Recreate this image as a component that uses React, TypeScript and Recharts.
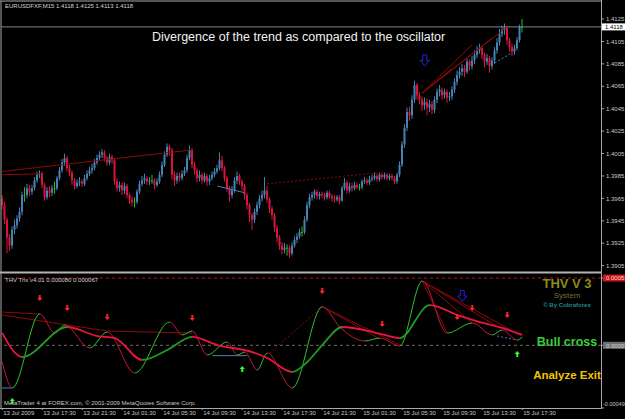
import React from "react";
import { ComposedChart, Bar, Line, XAxis, YAxis, ReferenceLine } from "recharts";

// ---------------- data ----------------
const FIRST_OPEN = 1.3965;
const closes = [
  1.3959,1.3946,1.3930,1.3923,1.3937,1.3941,1.3947,1.3953,1.3968,1.3968,
  1.3974,1.3971,1.3974,1.3981,1.3986,1.3987,1.3977,1.3966,1.3972,1.3970,
  1.3974,1.3974,1.3983,1.3990,1.3997,1.4001,1.3992,1.3988,1.3981,1.3976,
  1.3979,1.3980,1.3978,1.3983,1.3987,1.3990,1.3992,1.3997,1.4001,1.4004,
  1.4006,1.4001,1.3997,1.4002,1.3999,1.3980,1.3974,1.3977,1.3972,1.3976,
  1.3968,1.3964,1.3962,1.3962,1.3971,1.3978,1.3981,1.3983,1.3980,1.3981,
  1.3981,1.3977,1.3980,1.3986,1.3995,1.4004,1.4011,1.4008,1.3986,1.3981,
  1.3985,1.3983,1.3987,1.3990,1.4001,1.4008,1.3995,1.3990,1.3983,1.3986,
  1.3981,1.3985,1.3980,1.3983,1.3986,1.3989,1.3992,1.3999,1.3992,1.3983,
  1.3974,1.3968,1.3972,1.3981,1.3985,1.3980,1.3976,1.3968,1.3959,1.3950,
  1.3946,1.3953,1.3959,1.3965,1.3968,1.3972,1.3964,1.3956,1.3950,1.3939,
  1.3930,1.3923,1.3919,1.3921,1.3921,1.3916,1.3923,1.3928,1.3931,1.3935,
  1.3935,1.3946,1.3959,1.3966,1.3968,1.3971,1.3967,1.3969,1.3968,1.3966,
  1.3970,1.3967,1.3965,1.3964,1.3966,1.3963,1.3974,1.3979,1.3972,1.3976,
  1.3974,1.3977,1.3975,1.3975,1.3980,1.3981,1.3979,1.3982,1.3983,1.3985,
  1.3982,1.3986,1.3984,1.3986,1.3983,1.3985,1.3983,1.3980,1.3986,1.3995,
  1.4013,1.4028,1.4042,1.4039,1.4053,1.4066,1.4057,1.4053,1.4048,1.4051,
  1.4046,1.4049,1.4044,1.4053,1.4060,1.4062,1.4057,1.4060,1.4055,1.4056,
  1.4062,1.4069,1.4075,1.4078,1.4081,1.4078,1.4087,1.4083,1.4088,1.4093,
  1.4097,1.4099,1.4093,1.4087,1.4090,1.4083,1.4088,1.4097,1.4104,1.4112,
  1.4115,1.4117,1.4106,1.4100,1.4096,1.4099,1.4106,1.4118,1.4118,
];
const highs = [
  1.3968,1.3962,1.3948,1.3933,1.3940,1.3946,1.3950,1.3957,1.3971,1.3975,
  1.3978,1.3977,1.3977,1.3984,1.3989,1.3990,1.3989,1.3979,1.3975,1.3976,
  1.3977,1.3980,1.3985,1.3993,1.4000,1.4005,1.4003,1.3995,1.3990,1.3983,
  1.3982,1.3984,1.3982,1.3986,1.3990,1.3993,1.3996,1.4000,1.4004,1.4007,
  1.4009,1.4008,1.4003,1.4005,1.4004,1.4001,1.3983,1.3980,1.3979,1.3979,
  1.3978,1.3970,1.3967,1.3966,1.3973,1.3981,1.3985,1.3987,1.3985,1.3984,
  1.3986,1.3983,1.3983,1.3989,1.3998,1.4007,1.4014,1.4013,1.4010,1.3989,
  1.3988,1.3988,1.3990,1.3993,1.4004,1.4012,1.4010,1.3998,1.3992,1.3990,
  1.3988,1.3988,1.3987,1.3986,1.3989,1.3992,1.3995,1.4006,1.4003,1.3994,
  1.3985,1.3976,1.3976,1.3984,1.3989,1.3987,1.3982,1.3978,1.3970,1.3961,
  1.3952,1.3956,1.3962,1.3968,1.3972,1.3984,1.3976,1.3966,1.3958,1.3952,
  1.3941,1.3932,1.3926,1.3925,1.3924,1.3923,1.3926,1.3931,1.3934,1.3938,
  1.3940,1.3949,1.3962,1.3969,1.3971,1.3973,1.3973,1.3971,1.3971,1.3970,
  1.3972,1.3972,1.3969,1.3968,1.3968,1.3968,1.3976,1.3983,1.3981,1.3979,
  1.3979,1.3980,1.3979,1.3978,1.3982,1.3984,1.3983,1.3985,1.3986,1.3988,
  1.3987,1.3988,1.3988,1.3988,1.3988,1.3987,1.3987,1.3985,1.3988,1.3998,
  1.4016,1.4031,1.4046,1.4047,1.4057,1.4070,1.4068,1.4060,1.4056,1.4055,
  1.4054,1.4053,1.4052,1.4056,1.4063,1.4066,1.4064,1.4063,1.4062,1.4060,
  1.4065,1.4072,1.4079,1.4082,1.4085,1.4084,1.4090,1.4089,1.4092,1.4097,
  1.4101,1.4103,1.4101,1.4095,1.4094,1.4092,1.4091,1.4100,1.4108,1.4116,
  1.4119,1.4121,1.4119,1.4108,1.4103,1.4102,1.4109,1.4120,1.4125,
];
const lows = [
  1.3955,1.3942,1.3916,1.3918,1.3920,1.3933,1.3938,1.3944,1.3950,1.3962,
  1.3965,1.3967,1.3968,1.3972,1.3979,1.3983,1.3974,1.3963,1.3964,1.3966,
  1.3967,1.3969,1.3972,1.3981,1.3988,1.3994,1.3989,1.3985,1.3977,1.3973,
  1.3974,1.3976,1.3975,1.3976,1.3981,1.3985,1.3987,1.3990,1.3995,1.3999,
  1.4001,1.3998,1.3994,1.3995,1.3996,1.3977,1.3971,1.3971,1.3968,1.3969,
  1.3965,1.3960,1.3958,1.3957,1.3960,1.3969,1.3976,1.3978,1.3977,1.3977,
  1.3978,1.3973,1.3975,1.3978,1.3984,1.3993,1.4002,1.4003,1.3982,1.3976,
  1.3978,1.3980,1.3981,1.3985,1.3988,1.3999,1.3992,1.3986,1.3979,1.3980,
  1.3978,1.3979,1.3976,1.3977,1.3981,1.3984,1.3987,1.3990,1.3989,1.3980,
  1.3971,1.3962,1.3965,1.3970,1.3978,1.3977,1.3972,1.3964,1.3955,1.3944,
  1.3937,1.3943,1.3950,1.3956,1.3962,1.3965,1.3961,1.3952,1.3946,1.3935,
  1.3926,1.3919,1.3915,1.3916,1.3914,1.3912,1.3914,1.3921,1.3925,1.3929,
  1.3931,1.3933,1.3944,1.3956,1.3963,1.3965,1.3964,1.3964,1.3965,1.3963,
  1.3964,1.3965,1.3962,1.3961,1.3962,1.3960,1.3962,1.3972,1.3969,1.3970,
  1.3971,1.3972,1.3973,1.3972,1.3973,1.3978,1.3977,1.3977,1.3980,1.3981,
  1.3980,1.3980,1.3982,1.3982,1.3981,1.3981,1.3981,1.3978,1.3978,1.3984,
  1.3993,1.4010,1.4025,1.4034,1.4036,1.4050,1.4053,1.4049,1.4043,1.4044,
  1.4039,1.4042,1.4040,1.4041,1.4050,1.4056,1.4053,1.4054,1.4050,1.4052,
  1.4053,1.4059,1.4066,1.4072,1.4074,1.4073,1.4076,1.4079,1.4080,1.4085,
  1.4090,1.4094,1.4089,1.4082,1.4084,1.4077,1.4080,1.4085,1.4094,1.4101,
  1.4109,1.4111,1.4102,1.4096,1.4092,1.4093,1.4097,1.4104,1.4113,
];

const timeTickIdx = [0, 16, 32, 48, 64, 80, 96, 112, 128, 144, 160, 176, 192, 208];
const timeLabels = [
  "13 Jul 2009", "13 Jul 17:30", "13 Jul 21:30", "14 Jul 01:30", "14 Jul 05:30",
  "14 Jul 09:30", "14 Jul 13:30", "14 Jul 17:30", "14 Jul 21:30", "15 Jul 01:30",
  "15 Jul 05:30", "15 Jul 09:30", "15 Jul 13:30", "15 Jul 17:30",
];
const priceTicks = [1.4125, 1.4105, 1.4085, 1.4065, 1.4045, 1.4025, 1.4005, 1.3985, 1.3965, 1.3945, 1.3925, 1.3905];
const BID = 1.4118;

// THV Trix oscillator (fast / slow), key points: bar index and value
const fastIdx = [0, 4, 15, 21, 25, 35, 42, 53, 67, 72, 76, 82, 90, 94, 97, 102, 106, 116, 128, 135, 145, 151, 159, 168, 178, 188, 196, 200, 206, 208];
const fastVal = [-124e-6, -317e-6, 233e-6, 91e-6, 151e-6, -20e-6, 99e-6, -206e-6, 173e-6, 77e-6, 106e-6, -72e-6, 25e-6, -72e-6, -50e-6, -184e-6, -57e-6, -317e-6, 287e-6, 136e-6, 32e-6, 54e-6, -5e-6, 478e-6, 91e-6, 166e-6, 77e-6, 114e-6, 39e-6, 62e-6];
const slowIdx = [0, 8, 26, 38, 45, 56, 66, 76, 86, 100, 106, 116, 122, 128, 136, 150, 159, 171, 183, 191, 200, 208];
const slowVal = [91e-6, -87e-6, 136e-6, 69e-6, 54e-6, -109e-6, -35e-6, 62e-6, 2e-6, -50e-6, -94e-6, -198e-6, -124e-6, 2e-6, 136e-6, 91e-6, 54e-6, 299e-6, 218e-6, 173e-6, 129e-6, 77e-6];
const oscTicks = [0.0005, 0, -0.000466];
const oscTickLabels = ["0.0005", "0.0000", "-0.00049"];
const OSC_HIGH_LEVEL = 0.0005;

// trend / divergence lines: [i1, v1, i2, v2]
const priceDivLines = [
  [0, 1.3989, 75, 1.4008], [0, 1.3986, 15, 1.3987],
  [168, 1.4059, 180, 1.4081], [168, 1.4059, 188, 1.4102], [168, 1.4059, 196, 1.4108], [168, 1.4059, 202, 1.4118],
];
const priceDotLines = [[106, 1.3978, 151, 1.3988]];
const priceBlueLines = [[86, 1.3976, 97, 1.3970]];
const priceBlueDots = [[197, 1.4086, 204, 1.4095]];
const priceBlueArrowIdx = [169];
const priceBlueArrowVal = [1.4088];

const oscDivLines = [
  [0, 247e-6, 15, 233e-6], [0, 225e-6, 42, 106e-6], [42, 106e-6, 76, 91e-6],
  [128, 287e-6, 151, 47e-6], [128, 287e-6, 159, 2e-6],
  [168, 478e-6, 178, 91e-6], [168, 478e-6, 188, 166e-6], [168, 478e-6, 199, 129e-6], [168, 478e-6, 207, 77e-6],
];
const oscDotLines = [[107, -57e-6, 128, 287e-6]];
const oscBlueLines = [[84, -77e-6, 98, -77e-6], [0, -317e-6, 4, -317e-6]];
const oscBlueDots = [[198, 69e-6, 206, 39e-6]];
const downArrowIdx = [15, 26, 42, 76, 128, 152, 182, 188, 202];
const downArrowVal = [351e-6, 277e-6, 210e-6, 203e-6, 403e-6, 158e-6, 210e-6, 277e-6, 225e-6];
const upArrowIdx = [4, 96, 206];
const upArrowVal = [-414e-6, -177e-6, -65e-6];
const oscBlueArrowIdx = [184];
const oscBlueArrowVal = [366e-6];

// ---------------- layout / style ----------------
const W = 625;
const H = 419;
const SLOTS = 240;
const PLOT_L = 1;
const PLOT_R = 601;
const AXIS_W = 24;
const PRICE_MIN = 1.39002;
const PRICE_MAX = 1.41402;
const OSC_MIN = -0.000466;
const OSC_MAX = 0.00053;
const FONT = "'Liberation Sans', Arial, sans-serif";
const UP = "#4682b4";
const DOWN = "#dc143c";
const DOJI = "#22c022";
const THIN_UP = "#2fbf2f";
const THIN_DOWN = "#c8143a";
const THICK_UP = "#229a22";
const THICK_DOWN = "#ea143e";
const DIV = "#8b0a0a";
const AXIS = "#a8a8a8";
const TXT = "#c8c8c8";

const bars = closes.map((c, i) => ({
  i,
  o: i === 0 ? FIRST_OPEN : closes[i - 1],
  c,
  h: highs[i],
  l: lows[i],
  range: [lows[i], highs[i]],
}));
const fastData = fastIdx.map((i, k) => ({ i, v: fastVal[k] }));
const slowData = slowIdx.map((i, k) => ({ i, v: slowVal[k] }));
const toPts = (idx: number[], val: number[]) => idx.map((i, k) => ({ i, v: val[k] }));

function Candle(props: any) {
  const { x, y, width, height, payload } = props;
  if (!payload || x == null || y == null || isNaN(y)) return null;
  const { o, c, h, l } = payload;
  const top = Math.min(y, y + height);
  const bot = Math.max(y, y + height);
  const k = h > l ? (bot - top) / (h - l) : 0;
  const bTop = top + (h - Math.max(o, c)) * k;
  const bBot = top + (h - Math.min(o, c)) * k;
  const col = c > o ? UP : c < o ? DOWN : DOJI;
  const cx = x + width / 2;
  return (
    <g>
      <line x1={cx} x2={cx} y1={top} y2={bot} stroke={col} strokeWidth={1} />
      <rect x={cx - 1} y={bTop} width={2} height={Math.max(bBot - bTop, 0.8)} fill={col} />
    </g>
  );
}

function gradStops(idx: number[], val: number[], up: string, down: string) {
  const out: any[] = [];
  for (let k = 0; k < idx.length - 1; k++) {
    const col = val[k + 1] >= val[k] ? up : down;
    out.push(<stop key={`a${k}`} offset={(idx[k] + 0.5) / SLOTS} stopColor={col} />);
    out.push(<stop key={`b${k}`} offset={(idx[k + 1] + 0.5) / SLOTS} stopColor={col} />);
  }
  return out;
}

const renderDown = (p: any) => {
  const { cx, cy, index } = p;
  if (cx == null || cy == null) return <g key={`d${index}`} />;
  return (
    <path key={`d${index}`} fill="#ff2424"
      d={`M${cx - 1} ${cy - 3}H${cx + 1}V${cy}H${cx + 2.6}L${cx} ${cy + 3}L${cx - 2.6} ${cy}H${cx - 1}Z`} />
  );
};
const renderUp = (p: any) => {
  const { cx, cy, index } = p;
  if (cx == null || cy == null) return <g key={`u${index}`} />;
  return (
    <path key={`u${index}`} fill="#33ff33"
      d={`M${cx - 1} ${cy + 3}H${cx + 1}V${cy}H${cx + 2.6}L${cx} ${cy - 3}L${cx - 2.6} ${cy}H${cx - 1}Z`} />
  );
};
const renderBlue = (p: any) => {
  const { cx, cy, index } = p;
  if (cx == null || cy == null) return <g key={`b${index}`} />;
  return (
    <path key={`b${index}`} fill="none" stroke="#2323e0" strokeWidth={1}
      d={`M${cx - 2} ${cy - 5.5}H${cx + 2}V${cy}H${cx + 4.5}L${cx} ${cy + 5.5}L${cx - 4.5} ${cy}H${cx - 2}Z`} />
  );
};

function BidLabel(props: any) {
  const vb = props.viewBox || {};
  const x = (vb.x ?? PLOT_L) + (vb.width ?? 0) + 1;
  const y = vb.y ?? 0;
  return (
    <g>
      <rect x={x} y={y - 3.5} width={23} height={7} fill="#ffffff" />
      <text x={x + 3} y={y + 2.2} fontSize={6} fill="#000000" fontFamily={FONT}>{BID.toFixed(4)}</text>
    </g>
  );
}

function OscTick(props: any) {
  const { x, y, payload } = props;
  const v = payload?.value ?? 0;
  let k = 0;
  let best = Infinity;
  oscTicks.forEach((t, j) => {
    if (Math.abs(t - v) < best) { best = Math.abs(t - v); k = j; }
  });
  const label = oscTickLabels[k];
  if (k === 0) {
    return (
      <g>
        <rect x={x - 3} y={y - 3.5} width={24} height={7} fill="#c81818" />
        <text x={x} y={y + 2.2} fontSize={6} fill="#ffd0d0" fontFamily={FONT}>{label}</text>
      </g>
    );
  }
  if (k === 1) {
    return (
      <g>
        <rect x={x - 3} y={y - 3.5} width={24} height={7} fill="#6e6e6e" />
        <text x={x} y={y + 2.2} fontSize={6} fill="#d8d8d8" fontFamily={FONT}>{label}</text>
      </g>
    );
  }
  return <text x={x - 3} y={y - 2.5} fontSize={5.5} fill={TXT} fontFamily={FONT}>{label}</text>;
}

function TimeTick(props: any) {
  const { x, y, payload } = props;
  const k = timeTickIdx.indexOf(payload?.value);
  return (
    <text x={x + 1} y={y + 5} fontSize={6} fill={TXT} fontFamily={FONT}>{k >= 0 ? timeLabels[k] : ""}</text>
  );
}

const seg = (s: number[], key: string, stroke: string, dash?: string) => (
  <ReferenceLine key={key} segment={[{ x: s[0], y: s[1] }, { x: s[2], y: s[3] }]}
    stroke={stroke} strokeWidth={1} strokeDasharray={dash} ifOverflow="visible" />
);

export default function App() {
  return (
    <div style={{ position: "absolute", left: 0, top: 0, width: W, height: H, background: "#000", overflow: "hidden", fontFamily: FONT }}>
      {/* price panel */}
      <div style={{ position: "absolute", left: 0, top: 0 }}>
        <ComposedChart width={W} height={272} data={bars} margin={{ top: 2, right: 0, bottom: 1, left: PLOT_L }}>
          <XAxis dataKey="i" type="number" domain={[-0.5, SLOTS - 0.5]} allowDataOverflow hide />
          <YAxis orientation="right" width={AXIS_W} domain={[PRICE_MIN, PRICE_MAX]} allowDataOverflow
            ticks={priceTicks} interval={0} tickFormatter={(v: number) => v.toFixed(4)}
            tick={{ fill: TXT, fontSize: 6, fontFamily: FONT }} tickSize={3} tickMargin={2}
            tickLine={{ stroke: AXIS }} axisLine={false} />
          <ReferenceLine y={BID} stroke="#778899" strokeWidth={1} label={<BidLabel />} />
          {priceDivLines.map((s, k) => seg(s, `pd${k}`, DIV))}
          {priceDotLines.map((s, k) => seg(s, `pdd${k}`, DIV, "2 2"))}
          {priceBlueLines.map((s, k) => seg(s, `pb${k}`, UP))}
          {priceBlueDots.map((s, k) => seg(s, `pbd${k}`, UP, "2 2"))}
          <Bar dataKey="range" barSize={2} shape={<Candle />} isAnimationActive={false} />
          <Line data={toPts(priceBlueArrowIdx, priceBlueArrowVal)} dataKey="v" stroke="none" dot={renderBlue}
            activeDot={false} isAnimationActive={false} />
        </ComposedChart>
      </div>

      {/* oscillator panel */}
      <div style={{ position: "absolute", left: 0, top: 272 }}>
        <ComposedChart width={W} height={147} margin={{ top: 2, right: 0, bottom: 0, left: PLOT_L }}>
          <defs>
            <linearGradient id="gFast" gradientUnits="userSpaceOnUse" x1={PLOT_L} y1={0} x2={PLOT_R} y2={0}>
              {gradStops(fastIdx, fastVal, THIN_UP, THIN_DOWN)}
            </linearGradient>
            <linearGradient id="gSlow" gradientUnits="userSpaceOnUse" x1={PLOT_L} y1={0} x2={PLOT_R} y2={0}>
              {gradStops(slowIdx, slowVal, THICK_UP, THICK_DOWN)}
            </linearGradient>
          </defs>
          <XAxis dataKey="i" type="number" domain={[-0.5, SLOTS - 0.5]} allowDataOverflow height={11}
            ticks={timeTickIdx} interval={0} tick={<TimeTick />} tickSize={2} tickMargin={0}
            tickLine={{ stroke: AXIS }} axisLine={false} />
          <YAxis dataKey="v" orientation="right" width={AXIS_W} domain={[OSC_MIN, OSC_MAX]} allowDataOverflow
            ticks={oscTicks} interval={0} tick={<OscTick />} tickSize={3} tickMargin={2}
            tickLine={{ stroke: AXIS }} axisLine={false} />
          <ReferenceLine y={OSC_HIGH_LEVEL} stroke="#b81414" strokeDasharray="3 3" />
          <ReferenceLine y={0} stroke="#6a6a6a" strokeDasharray="3 3" />
          {oscDivLines.map((s, k) => seg(s, `od${k}`, DIV))}
          {oscDotLines.map((s, k) => seg(s, `odd${k}`, DIV, "2 2"))}
          {oscBlueLines.map((s, k) => seg(s, `ob${k}`, UP))}
          {oscBlueDots.map((s, k) => seg(s, `obd${k}`, UP, "2 2"))}
          <Line data={fastData} dataKey="v" type="monotone" stroke="url(#gFast)" strokeWidth={1}
            dot={false} activeDot={false} isAnimationActive={false} />
          <Line data={slowData} dataKey="v" type="monotone" stroke="url(#gSlow)" strokeWidth={1.8}
            dot={false} activeDot={false} isAnimationActive={false} />
          <Line data={toPts(downArrowIdx, downArrowVal)} dataKey="v" stroke="none" dot={renderDown}
            activeDot={false} isAnimationActive={false} />
          <Line data={toPts(upArrowIdx, upArrowVal)} dataKey="v" stroke="none" dot={renderUp}
            activeDot={false} isAnimationActive={false} />
          <Line data={toPts(oscBlueArrowIdx, oscBlueArrowVal)} dataKey="v" stroke="none" dot={renderBlue}
            activeDot={false} isAnimationActive={false} />
        </ComposedChart>
      </div>

      {/* frame and texts */}
      <svg width={W} height={H} style={{ position: "absolute", left: 0, top: 0, pointerEvents: "none" }}>
        <line x1={0} x2={PLOT_R} y1={1} y2={1} stroke={AXIS} strokeWidth={1} />
        <line x1={1} x2={1} y1={1} y2={408} stroke={AXIS} strokeWidth={1} />
        <line x1={PLOT_R + 0.5} x2={PLOT_R + 0.5} y1={0} y2={408.5} stroke={AXIS} strokeWidth={1} />
        <rect x={0} y={271.5} width={PLOT_R} height={2} fill="#b4b4b4" />
        <line x1={0} x2={PLOT_R + 0.5} y1={408.5} y2={408.5} stroke={AXIS} strokeWidth={1} />
        <text x={5} y={8.3} fontSize={6} fill="#d4d4d4" fontFamily={FONT}>EURUSDFXF,M15  1.4118 1.4125 1.4113 1.4118</text>
        <text x={152} y={40.5} fontSize={12.5} fill="#f2f2f2" fontFamily={FONT}>Divergence of the trend as compared to the oscillator</text>
        <text x={5} y={281.5} fontSize={6} fill="#d0d0d0" fontFamily={FONT}>THV Trix v4.01 0.000080 0.000067</text>
        <text x={567} y={287.5} fontSize={13} fontWeight="bold" fill="#8c8c18" textAnchor="middle" fontFamily={FONT}>THV V 3</text>
        <text x={567} y={298} fontSize={8} fill="#707038" textAnchor="middle" fontFamily={FONT}>System</text>
        <text x={567} y={306.5} fontSize={6} fontWeight="bold" fill="#1f8a8a" textAnchor="middle" fontFamily={FONT}>© By Cobraforex</text>
        <text x={567} y={345.7} fontSize={12.5} fontWeight="bold" fill="#3ccc3c" textAnchor="middle" fontFamily={FONT}>Bull cross</text>
        <text x={567} y={379} fontSize={11.5} fontWeight="bold" fill="#f5c400" textAnchor="middle" fontFamily={FONT}>Analyze Exit</text>
        <text x={4} y={404.5} fontSize={6} fill="#c8c8c8" fontFamily={FONT}>MetaTrader 4 at FOREX.com, © 2001-2009 MetaQuotes Software Corp.</text>
      </svg>
    </div>
  );
}
